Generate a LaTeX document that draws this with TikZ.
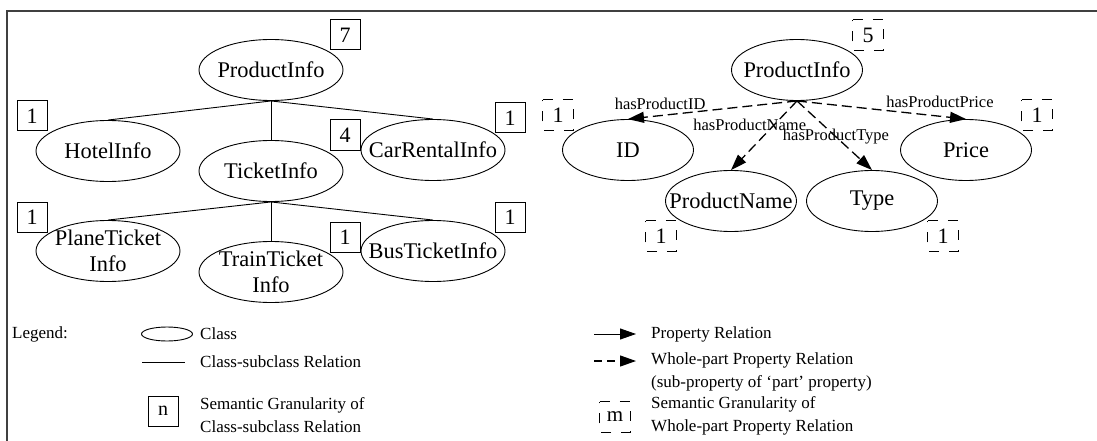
\documentclass[tikz,border=0pt]{standalone}
\usepackage{fontspec}
\setmainfont{Liberation Serif}
\usetikzlibrary{shapes.geometric,arrows.meta}
\begin{document}
\begin{tikzpicture}[x=1pt,y=-1pt,
  cls/.style={ellipse,draw,line width=0.9pt,minimum width=144pt,minimum height=61pt,
    inner xsep=-30pt,inner ysep=-12pt,align=center,font=\fontsize{22.4}{26}\selectfont},
  pcls/.style={cls,minimum width=131pt},
  gran/.style={draw,line width=1pt,minimum width=30pt,minimum height=30pt,inner sep=0pt,
    font=\fontsize{22}{24}\selectfont},
  dgran/.style={minimum width=30pt,minimum height=30pt,inner sep=0pt,
    font=\fontsize{22}{24}\selectfont},
  dframe/.style={line width=1.3pt,dash pattern=on 10pt off 10pt},
  sub/.style={line width=0.9pt},
  tip/.style={-{Triangle[length=16pt,width=11pt]}},
  part/.style={tip,line width=1.3pt,dash pattern=on 10pt off 5pt},
  plabel/.style={inner sep=0pt,font=\fontsize{16.5}{18}\selectfont},
  leg/.style={anchor=west,inner sep=0pt,align=left,font=\fontsize{17}{23}\selectfont}
]
\useasboundingbox (0,0) rectangle (1097,441);

% outer frame (top and left edges)
\draw[line width=1.5pt,black!75] (1097,11) -- (7,11) -- (7,441);

% ---- class hierarchy ----
\node[cls] (pl)    at (271,70)  {ProductInfo};
\node[cls] (hotel) at (108,151) {HotelInfo};
\node[cls] (tick)  at (271,171) {TicketInfo};
\node[cls] (car)   at (433,150) {CarRentalInfo};
\node[cls] (plane) at (108,251) {PlaneTicket\\Info};
\node[cls] (train) at (271,272) {TrainTicket\\Info};
\node[cls] (bus)   at (433,251) {BusTicketInfo};

\draw[sub] (pl.south) -- (hotel.north);
\draw[sub] (pl.south) -- (tick.north);
\draw[sub] (pl.south) -- (car.north);
\draw[sub] (tick.south) -- (plane.north);
\draw[sub] (tick.south) -- (train.north);
\draw[sub] (tick.south) -- (bus.north);

\node[gran] (g7)  at (345,35)  {7};
\node[gran] (gh)  at (32,116)  {1};
\node[gran] (g4)  at (345,135) {4};
\node[gran] (gc)  at (510,118) {1};
\node[gran] (gp)  at (32,217)  {1};
\node[gran] (gt)  at (345,237) {1};
\node[gran] (gb)  at (510,217) {1};

% ---- whole-part properties ----
\node[pcls] (pr)    at (797,70)  {ProductInfo};
\node[pcls] (id)    at (628,150) {ID};
\node[pcls] (price) at (966,150) {Price};
\node[pcls] (pname) at (731,201) {ProductName};
\node[pcls] (type)  at (872,201) {Type};

\draw[part] (pr.south) -- (id.north)
  node[plabel,pos=.81,yshift=12pt] (lid) {hasProductID};
\draw[part] (pr.south) -- (pname.north)
  node[plabel,pos=.352,xshift=-24pt] (lname) {hasProductName};
\draw[part] (pr.south) -- (type.north)
  node[plabel,pos=.52] (ltype) {hasProductType};
\draw[part] (pr.south) -- (price.north)
  node[plabel,pos=.846,yshift=14pt] (lprice) {hasProductPrice};

\node[dgran] (d5)  at (868,35)  {5};
\node[dgran] (did) at (558,115) {1};
\node[dgran] (dpr) at (1037,115) {1};
\node[dgran] (dpn) at (661,236) {1};
\node[dgran] (dty) at (943,236) {1};

% ---- legend ----
\node[leg] (legt) at (12,334) {Legend:};
\node[ellipse,draw,line width=0.9pt,minimum width=51pt,minimum height=14pt,inner sep=0pt] (lcls) at (167,334) {};
\node[leg] at (200,334) {Class};
\coordinate (ls1) at (142,362);
\coordinate (ls2) at (185,362);
\draw[sub] (ls1) -- (ls2);
\node[leg] at (200,362) {Class-subclass Relation};
\node[gran,minimum height=30pt,font=\fontsize{20}{22}\selectfont] (ln) at (163,411) {n};
\node[leg] at (200,415) {Semantic Granularity of\\Class-subclass Relation};

\coordinate (la1) at (594,334);
\coordinate (la2) at (636,334);
\draw[tip,line width=0.9pt] (la1) -- (la2);
\node[leg] at (651,334) {Property Relation};
\coordinate (lb1) at (594,361);
\coordinate (lb2) at (636,361);
\draw[tip,line width=1.2pt,dash pattern=on 8pt off 5pt] (lb1) -- (lb2);
\node[leg] at (651,372) {Whole-part Property Relation\\(sub-property of ‘part’ property)};
\node[dgran,font=\fontsize{21}{22}\selectfont] (lm) at (615,417) {m};
\node[leg] at (651,416) {Semantic Granularity of\\Whole-part Property Relation};

% dashed granularity frames
\foreach \n in {d5,did,dpr,dpn,dty,lm}
  \draw[dframe] (\n.north west) -- (\n.north east) -- (\n.south east) -- (\n.south west) -- cycle;
\end{tikzpicture}
\end{document}
